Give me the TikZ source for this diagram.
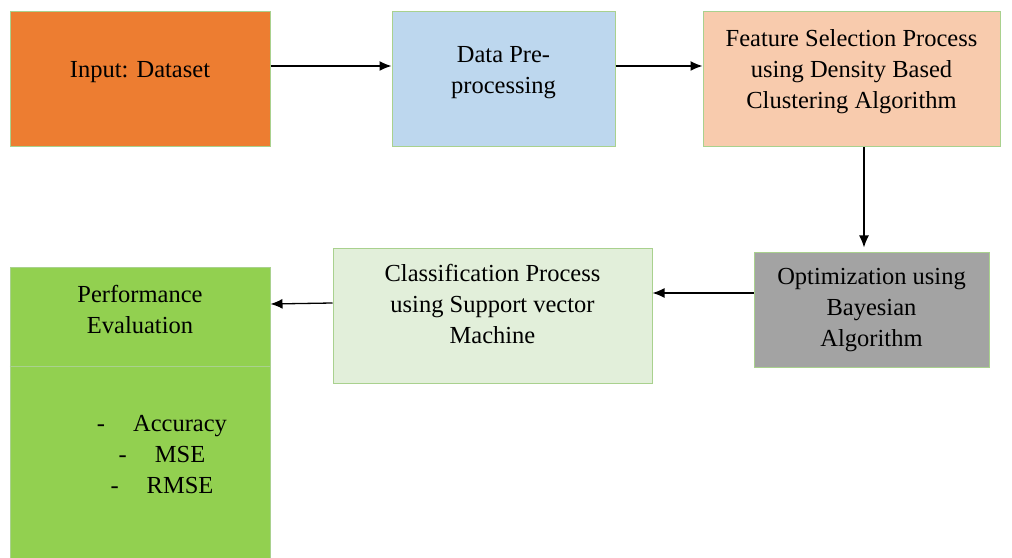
\documentclass[tikz,border=0pt]{standalone}
\usepackage{fontspec}
\setmainfont{Liberation Serif}
\usetikzlibrary{positioning, arrows.meta}
\definecolor{inorange}{HTML}{ED7D31}
\definecolor{preblue}{HTML}{BDD7EE}
\definecolor{fspeach}{HTML}{F8CBAD}
\definecolor{optgray}{HTML}{A3A3A3}
\definecolor{svmgreen}{HTML}{E2EFDA}
\definecolor{pegreen}{HTML}{92D050}
\definecolor{edge}{HTML}{A9D18E}

\begin{document}
\begin{tikzpicture}[x=1pt, y=1pt, node distance=10pt,
  box/.style={draw=edge, line width=1pt, align=center, inner sep=0pt, font=\fontsize{24.5}{31}\selectfont},
  arr/.style={-{Latex[length=12pt,width=10pt]}, line width=1.3pt}]
  \useasboundingbox (0,0) rectangle (1012,557);
  \node[box, fill=inorange, minimum width=260pt, minimum height=135pt, text depth=20pt] (In) at (140,477.5) {Input: Dataset};
  \node[box, fill=preblue, minimum width=223pt, minimum height=135pt, text depth=20pt, right=121pt of In] (Pre) {Data Pre-\\processing};
  \node[box, fill=fspeach, minimum width=297pt, minimum height=135pt, text depth=20pt, right=87pt of Pre] (FS) {Feature Selection Process\\using Density Based\\Clustering Algorithm};
  \node[box, fill=optgray, minimum width=235pt, minimum height=115pt, below=105pt of FS, xshift=20pt] (Opt) {Optimization using\\Bayesian\\Algorithm};
  \node[box, fill=svmgreen, minimum width=319pt, minimum height=135pt, text depth=26pt, left=101pt of Opt, yshift=-6pt] (SVM) {Classification Process\\using Support vector\\Machine};
  \node[box, fill=pegreen, minimum width=260pt, minimum height=292pt, left=62pt of SVM, yshift=-97.5pt] (PE) {};
  \node[box, draw=none, below=17pt of PE.north] (PEt) {Performance\\Evaluation};
  \node[box, draw=none] (PEl) at ([xshift=22pt, yshift=-41pt]PE.center) {-\hspace{28pt}Accuracy\\-\hspace{28pt}MSE\\-\hspace{28pt}RMSE};

  \draw[draw=edge, line width=1pt] ([yshift=-99pt]PE.north west) -- ([yshift=-99pt]PE.north east);
  \draw[arr] ([yshift=13.5pt]In.east) -- ([yshift=13.5pt]Pre.west);
  \draw[arr] ([yshift=13.5pt]Pre.east) -- ([yshift=13.5pt]FS.west);
  \draw[arr] ([xshift=12.5pt]FS.south) -- ([xshift=-7.5pt, yshift=5pt]Opt.north);
  \draw[arr] ([yshift=17.5pt]Opt.west) -- ([yshift=23.5pt]SVM.east);
  \draw[arr] ([yshift=13.5pt]SVM.west) -- ([yshift=110pt]PE.east);
\end{tikzpicture}
\end{document}
